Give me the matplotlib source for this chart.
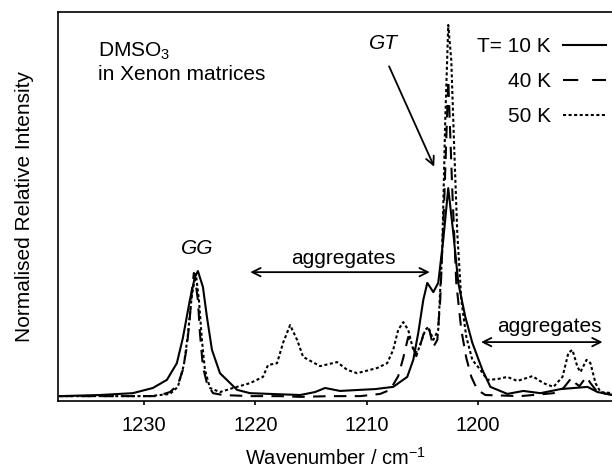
import numpy as np
import matplotlib
matplotlib.use("Agg")
import matplotlib.pyplot as plt

plt.rcParams['font.family'] = ['Liberation Sans', 'DejaVu Sans']
plt.rcParams['mathtext.fontset'] = 'custom'
plt.rcParams['mathtext.rm'] = 'Liberation Sans'
plt.rcParams['mathtext.it'] = 'Liberation Sans:italic'
plt.rcParams['lines.scale_dashes'] = False

# T = 10 K (solid)
wn_10 = [1237.55, 1233.95, 1230.99, 1229.19, 1227.93, 1227.04, 1226.50, 1225.87, 1225.42, 1225.15,
         1224.70, 1224.34, 1223.89, 1223.17, 1221.64, 1220.48, 1218.68, 1215.98, 1214.64, 1213.74,
         1212.39, 1210.59, 1209.25, 1207.63, 1206.37, 1205.83, 1205.38, 1204.93, 1204.57, 1204.03,
         1203.59, 1203.14, 1202.69, 1202.24, 1201.79, 1201.16, 1200.53, 1199.63, 1198.91, 1197.39,
         1195.95, 1194.42, 1192.62, 1190.20, 1189.30, 1187.95]
int_10 = [-0.003, 0.0, 0.005, 0.019, 0.041, 0.086, 0.154, 0.257, 0.319, 0.335,
          0.292, 0.211, 0.122, 0.059, 0.014, 0.005, 0.003, 0.0, 0.008, 0.019,
          0.011, 0.014, 0.016, 0.022, 0.049, 0.095, 0.168, 0.257, 0.303, 0.278,
          0.303, 0.419, 0.559, 0.438, 0.303, 0.211, 0.141, 0.068, 0.022, 0.003,
          0.011, 0.005, 0.016, 0.022, 0.008, 0.0]

# T = 40 K (dashed)
wn_40 = [1237.55, 1233.95, 1230.36, 1228.83, 1227.66, 1226.95, 1226.50, 1226.14, 1225.87, 1225.69,
         1225.51, 1225.33, 1225.15, 1224.97, 1224.70, 1224.34, 1223.80, 1222.90, 1220.48, 1217.78,
         1215.98, 1213.29, 1210.59, 1208.80, 1207.90, 1207.18, 1206.73, 1206.28, 1205.92, 1205.56,
         1205.20, 1204.75, 1204.39, 1204.03, 1203.67, 1203.41, 1203.05, 1202.69, 1202.33, 1201.97,
         1201.52, 1201.07, 1200.62, 1200.08, 1199.36, 1196.22, 1193.25, 1192.35, 1191.64, 1191.28,
         1190.92, 1190.65, 1190.29, 1189.93, 1189.30, 1187.95]
int_40 = [-0.003, -0.003, -0.003, -0.003, 0.008, 0.027, 0.068, 0.130, 0.211, 0.284,
          0.330, 0.297, 0.257, 0.168, 0.076, 0.032, 0.005, 0.0, -0.003, -0.003,
          -0.005, -0.003, -0.003, 0.003, 0.014, 0.051, 0.100, 0.157, 0.135, 0.105,
          0.135, 0.181, 0.176, 0.130, 0.149, 0.257, 0.527, 0.851, 0.554, 0.303,
          0.176, 0.100, 0.049, 0.014, 0.0, -0.003, 0.005, 0.019, 0.046, 0.032,
          0.024, 0.035, 0.049, 0.032, 0.008, 0.0]

# T = 50 K (dotted)
wn_50 = [1237.55, 1233.95, 1229.46, 1227.66, 1226.95, 1226.41, 1226.05, 1225.69, 1225.33, 1225.06,
         1224.79, 1224.52, 1224.07, 1223.17, 1222.00, 1220.48, 1219.31, 1218.86, 1218.05, 1217.51,
         1216.88, 1216.25, 1215.71, 1214.19, 1212.66, 1211.76, 1210.86, 1209.07, 1208.17, 1207.63,
         1207.18, 1206.73, 1206.28, 1205.83, 1205.47, 1204.75, 1204.48, 1204.03, 1203.59, 1203.23,
         1202.96, 1202.69, 1202.42, 1202.15, 1201.88, 1201.52, 1201.07, 1200.53, 1199.81, 1199.18,
         1198.28, 1197.39, 1196.49, 1195.14, 1194.15, 1193.25, 1192.44, 1191.91, 1191.55, 1191.10,
         1190.83, 1190.29, 1189.93, 1189.48, 1189.03, 1187.95]
int_50 = [-0.003, -0.003, -0.003, 0.003, 0.022, 0.081, 0.162, 0.270, 0.327, 0.257,
          0.149, 0.068, 0.019, 0.008, 0.019, 0.032, 0.049, 0.081, 0.086, 0.141,
          0.189, 0.149, 0.103, 0.078, 0.089, 0.068, 0.059, 0.073, 0.086, 0.122,
          0.176, 0.197, 0.176, 0.122, 0.114, 0.176, 0.184, 0.149, 0.176, 0.392,
          0.743, 1.0, 0.905, 0.662, 0.438, 0.257, 0.157, 0.095, 0.068, 0.041,
          0.043, 0.049, 0.038, 0.051, 0.032, 0.022, 0.049, 0.114, 0.122, 0.076,
          0.062, 0.095, 0.086, 0.032, 0.008, 0.005]

xticks = [1230, 1220, 1210, 1200]

fig = plt.figure(figsize=(6.12, 4.67), dpi=100)
ax = fig.add_axes([0.0948, 0.1413, 0.9052, 0.833])

ax.plot(wn_10, int_10, color='black', lw=1.5, label='T= 10 K')
ax.plot(wn_40, int_40, color='black', lw=1.5, linestyle=(0, (9, 6)), label='40 K')
ax.plot(wn_50, int_50, color='black', lw=1.5, linestyle=(0, (2.2, 1.8)), label='50 K')

ax.set_xlim(1237.7, 1188.0)
ax.set_ylim(-0.0162, 1.035)
ax.set_xticks(xticks)
ax.set_yticks([])
ax.tick_params(axis='x', direction='out', length=3, width=1.2, labelsize=14.5, pad=8)
ax.spines['right'].set_visible(False)
for s in ['top', 'bottom', 'left']:
    ax.spines[s].set_linewidth(1.2)

ax.set_xlabel('Wavenumber / cm$^{-1}$', fontsize=14.5, labelpad=8)
ax.set_ylabel('Normalised Relative Intensity', fontsize=15, labelpad=17)

ax.text(0.072, 0.925, 'DMSO$_3$\nin Xenon matrices', transform=ax.transAxes,
        fontsize=15, va='top', ha='left', linespacing=1.15)

ax.text(1225.2, 0.395, 'GG', fontsize=15, style='italic', ha='center', va='center')
ax.text(1208.5, 0.95, 'GT', fontsize=15, style='italic', ha='center', va='center')
ax.annotate('', xy=(1203.85, 0.61), xytext=(1208.1, 0.895),
            arrowprops=dict(arrowstyle='->', lw=1.3, color='black', mutation_scale=15))

ax.text(1212.1, 0.370, 'aggregates', fontsize=15, ha='center', va='center')
ax.annotate('', xy=(1220.7, 0.332), xytext=(1204.1, 0.332),
            arrowprops=dict(arrowstyle='<->', lw=1.3, color='black', mutation_scale=15))
ax.text(1193.6, 0.184, 'aggregates', fontsize=15, ha='center', va='center')
ax.annotate('', xy=(1200.0, 0.143), xytext=(1188.6, 0.143),
            arrowprops=dict(arrowstyle='<->', lw=1.3, color='black', mutation_scale=15))

leg = ax.legend(loc='upper right', frameon=False, markerfirst=False, fontsize=15,
                handlelength=2.1, handletextpad=0.55, labelspacing=0.77,
                borderaxespad=0.0, bbox_to_anchor=(1.005, 0.957))
leg.get_lines()[1].set_dashes((11, 10))

fig.savefig('out.png', dpi=100)
